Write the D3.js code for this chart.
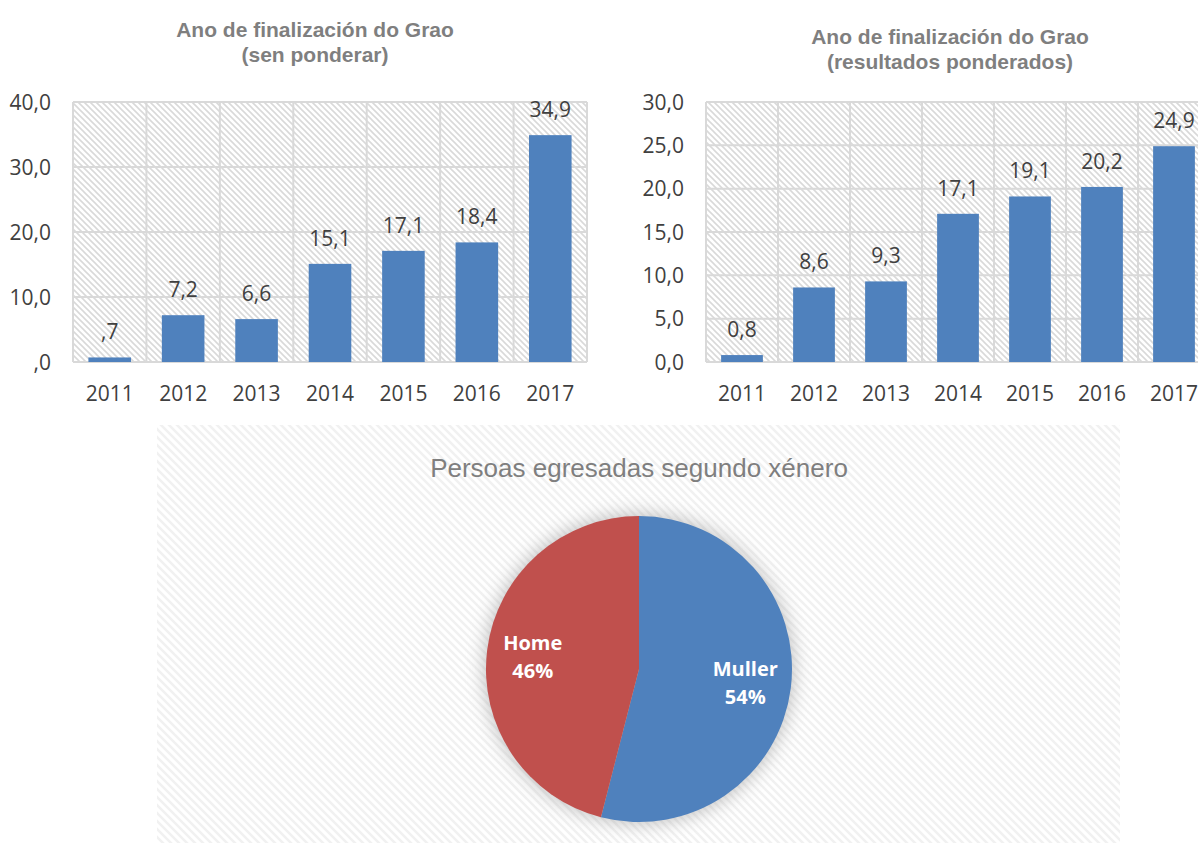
<!DOCTYPE html>
<html>
<head>
<meta charset="utf-8">
<script src="https://cdn.jsdelivr.net/npm/d3@7"></script>
<style>
  body { margin: 0; background: #fff; }
  svg { display: block; }
</style>
</head>
<body>
<svg id="chart" width="1198" height="843"></svg>
<script>
// datos
const years = ['2011', '2012', '2013', '2014', '2015', '2016', '2017'];
const senPonderar = [0.7, 7.2, 6.6, 15.1, 17.1, 18.4, 34.9];
const senPonderarLabels = [',7', '7,2', '6,6', '15,1', '17,1', '18,4', '34,9'];
const ponderados = [0.8, 8.6, 9.3, 17.1, 19.1, 20.2, 24.9];
const ponderadosLabels = ['0,8', '8,6', '9,3', '17,1', '19,1', '20,2', '24,9'];
const ticksLeft = [0, 10, 20, 30, 40];
const tickLabelsLeft = [',0', '10,0', '20,0', '30,0', '40,0'];
const ticksRight = [0, 5, 10, 15, 20, 25, 30];
const tickLabelsRight = ['0,0', '5,0', '10,0', '15,0', '20,0', '25,0', '30,0'];
const xenero = ['Muller', 'Home'];
const xeneroPct = [54, 46];

const BLUE = '#4f81bd';
const RED = '#c0504d';
const GRID = '#d9d9d9';
const TEXT = '#404040';
const numFont = '"Open Sans", "Noto Sans", sans-serif';
const narrowFont = '"Liberation Sans Narrow", "Arial Narrow", "Liberation Sans", sans-serif';

const svg = d3.select('#chart');
const defs = svg.append('defs');

// rayado diagonal de fondo
defs.append('pattern')
  .attr('id', 'hatch')
  .attr('patternUnits', 'userSpaceOnUse')
  .attr('width', 6).attr('height', 6)
  .append('path')
  .attr('d', 'M0,0 L6,6 M-1,5 L1,7 M5,-1 L7,1')
  .attr('stroke', '#d9d9d9')
  .attr('stroke-width', 1.6);

defs.append('pattern')
  .attr('id', 'hatchLight')
  .attr('patternUnits', 'userSpaceOnUse')
  .attr('width', 8).attr('height', 8)
  .append('path')
  .attr('d', 'M0,0 L8,8 M-2,6 L2,10 M6,-2 L10,2')
  .attr('stroke', '#f1f1f1')
  .attr('stroke-width', 2.6);

const shadow = defs.append('filter')
  .attr('id', 'glow')
  .attr('x', '-30%').attr('y', '-30%')
  .attr('width', '160%').attr('height', '160%');
shadow.append('feGaussianBlur').attr('stdDeviation', 9);

function barChart(opt) {
  const g = svg.append('g');
  const x = d3.scaleBand()
    .domain(years)
    .range([opt.x0, opt.x1])
    .paddingInner(0.42)
    .paddingOuter(0.21);
  const y = d3.scaleLinear()
    .domain([0, opt.max])
    .range([362, 102]);

  g.append('rect')
    .attr('x', opt.x0).attr('y', y(opt.max))
    .attr('width', opt.x1 - opt.x0).attr('height', y(0) - y(opt.max))
    .attr('fill', 'url(#hatch)');

  // grid horizontal
  g.selectAll('line.h')
    .data(opt.ticks)
    .join('line')
    .attr('class', 'h')
    .attr('x1', opt.x0).attr('x2', opt.x1)
    .attr('y1', (d) => y(d)).attr('y2', (d) => y(d))
    .attr('stroke', GRID).attr('stroke-width', 2);

  // grid vertical (limites de categoria)
  const step = x.step();
  g.selectAll('line.v')
    .data(d3.range(years.length + 1))
    .join('line')
    .attr('class', 'v')
    .attr('x1', (i) => opt.x0 + i * step).attr('x2', (i) => opt.x0 + i * step)
    .attr('y1', y(opt.max)).attr('y2', y(0))
    .attr('stroke', GRID).attr('stroke-width', 2);

  g.selectAll('rect.bar')
    .data(opt.values)
    .join('rect')
    .attr('class', 'bar')
    .attr('x', (d, i) => x(years[i]))
    .attr('y', (d) => y(d))
    .attr('width', x.bandwidth())
    .attr('height', (d) => y(0) - y(d))
    .attr('fill', BLUE);

  g.selectAll('text.val')
    .data(opt.values)
    .join('text')
    .attr('class', 'val')
    .attr('x', (d, i) => x(years[i]) + x.bandwidth() / 2)
    .attr('y', (d) => y(d) - 18)
    .attr('text-anchor', 'middle')
    .style('font-family', numFont)
    .style('font-size', '21px')
    .style('fill', TEXT)
    .text((d, i) => opt.labels[i]);

  g.selectAll('text.yt')
    .data(opt.ticks)
    .join('text')
    .attr('class', 'yt')
    .attr('x', opt.x0 - 22)
    .attr('y', (d) => y(d))
    .attr('dy', '0.36em')
    .attr('text-anchor', 'end')
    .style('font-family', numFont)
    .style('font-size', '21px')
    .style('fill', TEXT)
    .text((d, i) => opt.tickLabels[i]);

  g.selectAll('text.xt')
    .data(years)
    .join('text')
    .attr('class', 'xt')
    .attr('x', (d) => x(d) + x.bandwidth() / 2)
    .attr('y', 401)
    .attr('text-anchor', 'middle')
    .style('font-family', numFont)
    .style('font-size', '21px')
    .style('fill', TEXT)
    .text((d) => d);

  const t = g.append('text')
    .attr('text-anchor', 'middle')
    .style('font-family', narrowFont)
    .style('font-weight', 'bold')
    .style('font-size', '21px')
    .style('fill', '#7f7f7f');
  opt.title.forEach((line, i) => {
    t.append('tspan').attr('x', opt.titleX).attr('y', opt.titleY + i * 25).text(line);
  });
}

barChart({
  x0: 73, x1: 587, max: 40,
  values: senPonderar, labels: senPonderarLabels,
  ticks: ticksLeft, tickLabels: tickLabelsLeft,
  title: ['Ano de finalización do Grao', '(sen ponderar)'],
  titleX: 315, titleY: 37
});

barChart({
  x0: 706, x1: 1210, max: 30,
  values: ponderados, labels: ponderadosLabels,
  ticks: ticksRight, tickLabels: tickLabelsRight,
  title: ['Ano de finalización do Grao', '(resultados ponderados)'],
  titleX: 950, titleY: 44
});

// circular
const pg = svg.append('g');
pg.append('rect')
  .attr('x', 157).attr('y', 425)
  .attr('width', 963).attr('height', 418)
  .attr('fill', 'url(#hatchLight)');

pg.append('text')
  .attr('x', 639).attr('y', 477)
  .attr('text-anchor', 'middle')
  .style('font-family', narrowFont)
  .style('font-size', '26px')
  .style('fill', '#7f7f7f')
  .text('Persoas egresadas segundo xénero');

const cx = 639, cy = 669, r = 153;
const pie = d3.pie().sort(null).value((d) => d);
const arc = d3.arc().innerRadius(0).outerRadius(r);
const labelArc = d3.arc().innerRadius(r * 0.7).outerRadius(r * 0.7);
const arcs = pie(xeneroPct);
const colors = [BLUE, RED];

const pc = pg.append('g').attr('transform', `translate(${cx},${cy})`);
pc.append('circle')
  .attr('r', r + 2)
  .attr('fill', '#9a9a9a')
  .attr('opacity', 0.6)
  .attr('filter', 'url(#glow)');

pc.selectAll('path')
  .data(arcs)
  .join('path')
  .attr('d', arc)
  .attr('fill', (d, i) => colors[i]);

pc.selectAll('text')
  .data(arcs)
  .join('text')
  .attr('text-anchor', 'middle')
  .style('font-family', numFont)
  .style('font-weight', 'bold')
  .style('font-size', '20px')
  .style('fill', '#fff')
  .each(function(d, i) {
    const [lx, ly] = labelArc.centroid(d);
    const t = d3.select(this);
    t.append('tspan').attr('x', lx).attr('y', ly - 6).text(xenero[i]);
    t.append('tspan').attr('x', lx).attr('y', ly + 22).text(xeneroPct[i] + '%');
  });
</script>
</body>
</html>
